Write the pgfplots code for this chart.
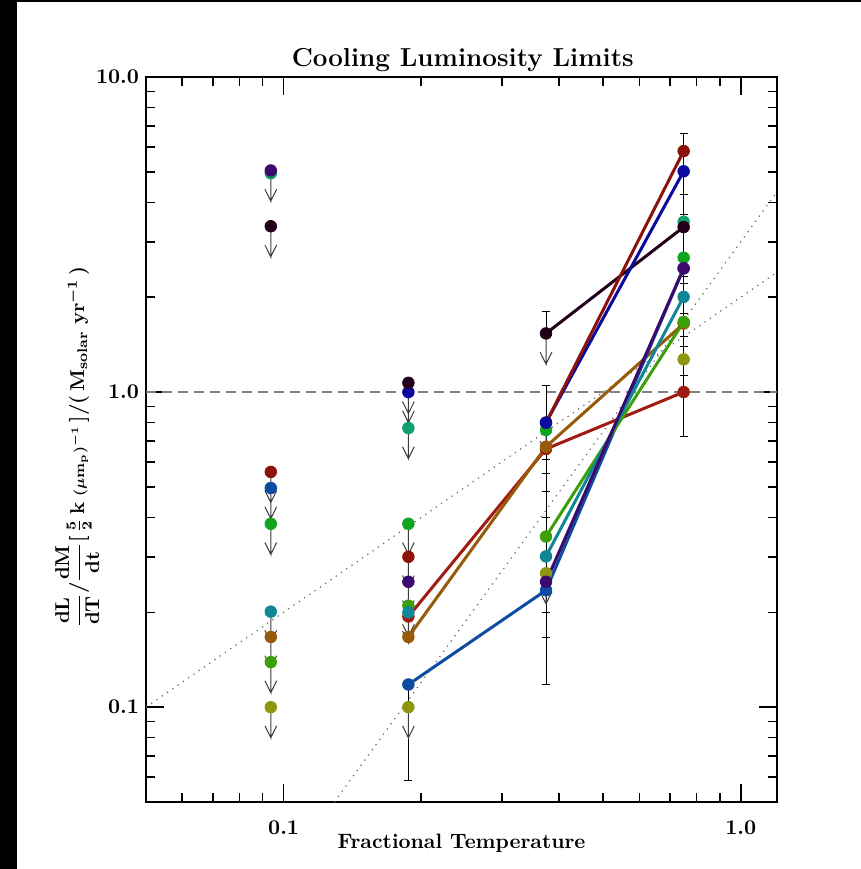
\documentclass[border=0pt]{standalone}
\usepackage{amsmath}
\usepackage{pgfplots}
\pgfplotsset{compat=1.18}
\definecolor{cRedA}{RGB}{140,18,10}
\definecolor{cRedB}{RGB}{160,28,16}
\definecolor{cBlue}{RGB}{10,10,160}
\definecolor{cDark}{RGB}{35,0,25}
\definecolor{cTealG}{RGB}{16,160,110}
\definecolor{cGreen}{RGB}{16,165,30}
\definecolor{cPurple}{RGB}{60,10,110}
\definecolor{cSteel}{RGB}{15,75,160}
\definecolor{cTeal}{RGB}{15,135,150}
\definecolor{cBrown}{RGB}{150,90,10}
\definecolor{cYG}{RGB}{60,160,10}
\definecolor{cOlive}{RGB}{140,150,15}
\definecolor{cArrow}{RGB}{60,60,60}
\newcommand{\ylab}{{\boldmath$\displaystyle\frac{\mathbf{dL}}{\mathbf{dT}}\textstyle/\displaystyle\frac{\mathbf{dM}}{\mathbf{dt}}\textstyle\lbrack\,\frac{\mathbf{5}}{\mathbf{2}}\,\mathbf{k}\;{\scriptstyle(\mu\mathbf{m}_{\mathbf{p}})^{-1}}\,\rbrack/(\,\mathbf{M}_{\mathbf{solar}}\;\mathbf{yr}^{-1}\,)$}}
\pgfplotsset{
  mydot/.style={only marks, mark=*, mark size=2.9pt, color=#1, mark options={draw=#1, fill=#1}},
  myseg/.style={color=#1, line width=1.5pt, mark=none},
}
\begin{document}
\begin{tikzpicture}
\path[use as bounding box] (0pt,0pt) rectangle (430.5pt,434.5pt);
\fill[white] (0pt,0pt) rectangle (430.5pt,434.5pt);
\fill[black] (0pt,0pt) rectangle (8.5pt,434.5pt);
\fill[black] (0pt,433.5pt) rectangle (430.5pt,434.5pt);
\begin{axis}[
  at={(73pt,33.5pt)}, anchor=south west,
  scale only axis, width=315.5pt, height=362.5pt,
  xmode=log, ymode=log,
  xmin=0.05, xmax=1.2, ymin=0.05, ymax=10,
  unbounded coords=jump,
  xtick={0.1,1}, xticklabels={\textbf{0.1},\textbf{1.0}},
  ytick={0.1,1,10}, yticklabels={\textbf{0.1},\textbf{1.0},\textbf{10.0}},
  minor xtick={0.06,0.07,0.08,0.09,0.2,0.3,0.4,0.5,0.6,0.7,0.8,0.9},
  minor ytick={0.06,0.07,0.08,0.09,0.2,0.3,0.4,0.5,0.6,0.7,0.8,0.9,2,3,4,5,6,7,8,9},
  tick label style={font=\fontsize{10.5}{12}\selectfont},
  xticklabel style={yshift=-6pt},
  axis line style={line width=1pt},
  major tick length=9pt, minor tick length=4.5pt,
  every tick/.append style={black, line width=0.8pt},
  every axis title shift=0pt,
  title={\textbf{Cooling Luminosity Limits}},
  title style={font=\fontsize{13}{15}\selectfont, at={(axis description cs:0.502,1.024)}, anchor=center},
  xlabel={\textbf{Fractional Temperature}},
  xlabel style={font=\fontsize{10.4}{12}\selectfont, at={(axis description cs:0.5,-0.057)}, anchor=center},
  ylabel={\ylab},
  ylabel style={font=\fontsize{10}{12}\selectfont, at={(axis description cs:-0.109,0.49)}, anchor=center},
]
% reference lines
\addplot[gray, line width=0.8pt, dash pattern=on 5pt off 3pt] coordinates {(0.05,1) (1.2,1)};
\addplot[black!60, line width=0.6pt, dash pattern=on 0.6pt off 2.6pt] coordinates {(0.05,0.1) (1.2,2.4)};
\addplot[black!60, line width=0.6pt, dash pattern=on 0.6pt off 2.6pt] coordinates {(0.1291,0.05) (1.2,4.32)};
% error bars: vertical spans and caps
\addplot[black, line width=0.5pt, mark=none] coordinates {
  (0.1875,0.0586) (0.1875,0.118) (nan,nan)
  (0.375,0.118) (0.375,1.05) (nan,nan)
  (0.375,1.535) (0.375,1.80) (nan,nan)
  (0.75,0.722) (0.75,6.6) (nan,nan)
  (0.18375,0.0586) (0.19125,0.0586) (nan,nan)
  (0.3675,1.80) (0.3825,1.80) (nan,nan)
  (0.3675,1.05) (0.3825,1.05) (nan,nan)
  (0.3675,0.61) (0.3825,0.61) (nan,nan)
  (0.3675,0.55) (0.3825,0.55) (nan,nan)
  (0.3675,0.483) (0.3825,0.483) (nan,nan)
  (0.3675,0.40) (0.3825,0.40) (nan,nan)
  (0.3675,0.20) (0.3825,0.20) (nan,nan)
  (0.3675,0.166) (0.3825,0.166) (nan,nan)
  (0.3675,0.118) (0.3825,0.118) (nan,nan)
  (0.735,6.6) (0.765,6.6) (nan,nan)
  (0.735,4.24) (0.765,4.24) (nan,nan)
  (0.735,3.67) (0.765,3.67) (nan,nan)
  (0.735,3.55) (0.765,3.55) (nan,nan)
  (0.735,2.71) (0.765,2.71) (nan,nan)
  (0.735,2.54) (0.765,2.54) (nan,nan)
  (0.735,2.32) (0.765,2.32) (nan,nan)
  (0.735,2.21) (0.765,2.21) (nan,nan)
  (0.735,1.78) (0.765,1.78) (nan,nan)
  (0.735,1.50) (0.765,1.50) (nan,nan)
  (0.735,1.40) (0.765,1.40) (nan,nan)
  (0.735,1.13) (0.765,1.13) (nan,nan)
  (0.735,0.722) (0.765,0.722)
};
% upper limit arrows: shaft to tip, then a V head (left arm, back to tip, right arm)
\addplot[cArrow, line width=0.5pt, mark=none] coordinates {
  (0.09375,5.05) (0.09375,4.04) (0.091019,4.4036) (0.09375,4.04) (0.096563,4.4036) (nan,nan)
  (0.09375,3.36) (0.09375,2.688) (0.091019,2.9299) (0.09375,2.688) (0.096563,2.9299) (nan,nan)
  (0.09375,0.558) (0.09375,0.4464) (0.091019,0.48658) (0.09375,0.4464) (0.096563,0.48658) (nan,nan)
  (0.09375,0.496) (0.09375,0.3968) (0.091019,0.43251) (0.09375,0.3968) (0.096563,0.43251) (nan,nan)
  (0.09375,0.382) (0.09375,0.3056) (0.091019,0.33310) (0.09375,0.3056) (0.096563,0.33310) (nan,nan)
  (0.09375,0.201) (0.09375,0.1608) (0.091019,0.17527) (0.09375,0.1608) (0.096563,0.17527) (nan,nan)
  (0.09375,0.167) (0.09375,0.1336) (0.091019,0.14562) (0.09375,0.1336) (0.096563,0.14562) (nan,nan)
  (0.09375,0.139) (0.09375,0.1112) (0.091019,0.12121) (0.09375,0.1112) (0.096563,0.12121) (nan,nan)
  (0.09375,0.1) (0.09375,0.08) (0.091019,0.0872) (0.09375,0.08) (0.096563,0.0872) (nan,nan)
  (0.1875,1.07) (0.1875,0.856) (0.182039,0.93304) (0.1875,0.856) (0.193125,0.93304) (nan,nan)
  (0.1875,1.0) (0.1875,0.8) (0.182039,0.872) (0.1875,0.8) (0.193125,0.872) (nan,nan)
  (0.1875,0.769) (0.1875,0.6152) (0.182039,0.67057) (0.1875,0.6152) (0.193125,0.67057) (nan,nan)
  (0.1875,0.382) (0.1875,0.3056) (0.182039,0.33310) (0.1875,0.3056) (0.193125,0.33310) (nan,nan)
  (0.1875,0.30) (0.1875,0.24) (0.182039,0.2616) (0.1875,0.24) (0.193125,0.2616) (nan,nan)
  (0.1875,0.25) (0.1875,0.20) (0.182039,0.218) (0.1875,0.20) (0.193125,0.218) (nan,nan)
  (0.1875,0.21) (0.1875,0.168) (0.182039,0.18312) (0.1875,0.168) (0.193125,0.18312) (nan,nan)
  (0.1875,0.20) (0.1875,0.16) (0.182039,0.1744) (0.1875,0.16) (0.193125,0.1744) (nan,nan)
  (0.1875,0.1) (0.1875,0.08) (0.182039,0.0872) (0.1875,0.08) (0.193125,0.0872) (nan,nan)
  (0.375,1.535) (0.375,1.228) (0.364078,1.33852) (0.375,1.228) (0.38625,1.33852) (nan,nan)
  (0.375,0.80) (0.375,0.64) (0.364078,0.6976) (0.375,0.64) (0.38625,0.6976) (nan,nan)
  (0.375,0.266) (0.375,0.2128) (0.364078,0.23195) (0.375,0.2128) (0.38625,0.23195)
};
% connecting lines
\addplot[myseg=cRedB] coordinates {(0.1875,0.194) (0.375,0.66) (0.75,1.0)};
\addplot[myseg=cBrown] coordinates {(0.1875,0.167) (0.375,0.671) (0.75,1.65)};
\addplot[myseg=cSteel] coordinates {(0.1875,0.118) (0.375,0.235) (0.75,2.47)};
\addplot[myseg=cYG] coordinates {(0.375,0.348) (0.75,1.67)};
\addplot[myseg=cTeal] coordinates {(0.375,0.301) (0.75,2.005)};
\addplot[myseg=cPurple] coordinates {(0.375,0.25) (0.75,2.47)};
\addplot[myseg=cDark] coordinates {(0.375,1.535) (0.75,3.34)};
\addplot[myseg=cBlue] coordinates {(0.375,0.80) (0.75,5.02)};
\addplot[myseg=cRedA] coordinates {(0.375,0.80) (0.75,5.82)};
% markers
\addplot[mydot=cTealG] coordinates {(0.09375,4.95) (0.1875,0.769) (0.75,3.47)};
\addplot[mydot=cGreen] coordinates {(0.09375,0.382) (0.1875,0.382) (0.375,0.758) (0.75,2.67)};
\addplot[mydot=cRedA] coordinates {(0.09375,0.558) (0.1875,0.30) (0.375,0.80) (0.75,5.82)};
\addplot[mydot=cBlue] coordinates {(0.1875,1.0) (0.375,0.80) (0.75,5.02)};
\addplot[mydot=cDark] coordinates {(0.09375,3.36) (0.1875,1.07) (0.375,1.535) (0.75,3.34)};
\addplot[mydot=cRedB] coordinates {(0.1875,0.194) (0.375,0.66) (0.75,1.0)};
\addplot[mydot=cBrown] coordinates {(0.09375,0.167) (0.1875,0.167) (0.375,0.671) (0.75,1.65)};
\addplot[mydot=cYG] coordinates {(0.09375,0.139) (0.1875,0.21) (0.375,0.348) (0.75,1.67)};
\addplot[mydot=cTeal] coordinates {(0.09375,0.201) (0.1875,0.20) (0.375,0.301) (0.75,2.005)};
\addplot[mydot=cOlive] coordinates {(0.09375,0.1) (0.1875,0.1) (0.375,0.266) (0.75,1.27)};
\addplot[mydot=cSteel] coordinates {(0.09375,0.496) (0.1875,0.118) (0.375,0.235) (0.75,2.47)};
\addplot[mydot=cPurple] coordinates {(0.09375,5.05) (0.1875,0.25) (0.375,0.25) (0.75,2.47)};
\end{axis}
\end{tikzpicture}
\end{document}
